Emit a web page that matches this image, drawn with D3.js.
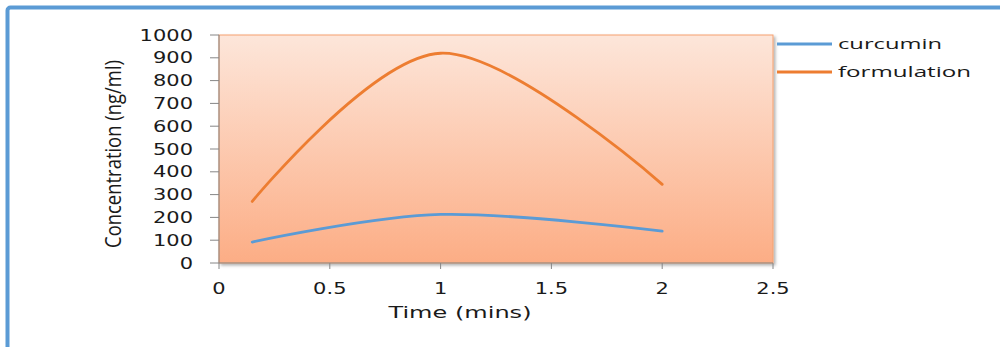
<!DOCTYPE html>
<html>
<head>
<meta charset="utf-8">
<script src="https://cdn.jsdelivr.net/npm/d3@7"></script>
<style>
  body { margin: 0; background: #fff; }
  svg { display: block; }
</style>
</head>
<body>
<script>
const width = 1000,
      height = 347

// data
const times = [0.15, 1, 2]
const curcumin = [92, 213, 140]
const formulation = [270, 920, 345]
const seriesNames = ['curcumin', 'formulation']
const seriesColors = ['#5b9bd5', '#ed7d31']
const xTicks = [0, 0.5, 1, 1.5, 2, 2.5]
const yTicks = [0, 100, 200, 300, 400, 500, 600, 700, 800, 900, 1000]

const plot = {left: 219, right: 773, top: 35, bottom: 263}
const stretch = 1.4   // the original picture is stretched sideways

const x = d3.scaleLinear().domain([0, 2.5]).range([plot.left, plot.right])
const y = d3.scaleLinear().domain([0, 1000]).range([plot.bottom, plot.top])

const svg = d3.select('body').append('svg')
    .attr('width', width)
    .attr('height', height)

const defs = svg.append('defs')
const grad = defs.append('linearGradient')
    .attr('id', 'plotFill')
    .attr('x1', 0).attr('y1', 0).attr('x2', 0).attr('y2', 1)
grad.append('stop').attr('offset', '0%').attr('stop-color', '#fde6da')
grad.append('stop').attr('offset', '100%').attr('stop-color', '#fcad85')

const shadow = defs.append('filter').attr('id', 'shadow')
    .attr('x', '-5%').attr('y', '-5%').attr('width', '110%').attr('height', '115%')
shadow.append('feDropShadow')
    .attr('dx', 2).attr('dy', 2).attr('stdDeviation', 1.5)
    .attr('flood-color', '#000').attr('flood-opacity', 0.3)

// outer frame, only its top and left edges show
svg.append('rect')
    .attr('x', 7.5).attr('y', 7.5)
    .attr('width', 1100).attr('height', 500)
    .attr('rx', 3)
    .attr('fill', 'none')
    .attr('stroke', '#5b9bd5')
    .attr('stroke-width', 4)

// plot area
svg.append('rect')
    .attr('x', plot.left).attr('y', plot.top)
    .attr('width', plot.right - plot.left)
    .attr('height', plot.bottom - plot.top)
    .attr('fill', 'url(#plotFill)')
    .attr('stroke', '#f5a06e')
    .attr('stroke-width', 1)
    .attr('filter', 'url(#shadow)')

// stretched text helper
function label(g, str, tx, ty, opts) {
    const t = g.append('text')
        .attr('transform', `translate(${tx},${ty}) scale(${stretch},1)`)
        .attr('text-anchor', opts.anchor || 'middle')
        .attr('font-family', opts.font || 'DejaVu Sans, Verdana, sans-serif')
        .attr('font-size', opts.size || 15)
        .attr('fill', opts.fill || '#1a1a1a')
        .text(str)
    if (opts.len) {
        t.attr('textLength', opts.len / stretch).attr('lengthAdjust', 'spacingAndGlyphs')
    }
    return t
}

// y axis
const yAxis = svg.append('g')
yAxis.append('line')
    .attr('x1', plot.left).attr('x2', plot.left)
    .attr('y1', plot.top).attr('y2', plot.bottom)
    .attr('stroke', '#868686')
yAxis.selectAll('.ytick')
    .data(yTicks)
    .enter()
    .append('line')
        .attr('x1', plot.left - 9).attr('x2', plot.left)
        .attr('y1', d => y(d)).attr('y2', d => y(d))
        .attr('stroke', '#868686')
yTicks.forEach(d => {
    label(yAxis, d, 193, y(d) + 5.5, {anchor: 'end'})
})

// x axis
const xAxis = svg.append('g')
xAxis.append('line')
    .attr('x1', plot.left).attr('x2', plot.right)
    .attr('y1', plot.bottom).attr('y2', plot.bottom)
    .attr('stroke', '#868686')
xAxis.selectAll('.xtick')
    .data(xTicks)
    .enter()
    .append('line')
        .attr('x1', d => x(d)).attr('x2', d => x(d))
        .attr('y1', plot.bottom).attr('y2', plot.bottom + 6)
        .attr('stroke', '#868686')
xTicks.forEach(d => {
    label(xAxis, d, x(d), 294, {})
})

// axis titles
label(svg, 'Time (mins)', 460, 318, {size: 16.5, len: 143})

svg.append('text')
    .attr('transform', `translate(121,154) rotate(-90) scale(1,${stretch})`)
    .attr('text-anchor', 'middle')
    .attr('font-family', 'Open Sans, sans-serif')
    .attr('font-size', 16)
    .attr('fill', '#1a1a1a')
    .attr('textLength', 188)
    .attr('lengthAdjust', 'spacingAndGlyphs')
    .text('Concentration (ng/ml)')

// lines
const line = d3.line()
    .x(d => x(d.t))
    .y(d => y(d.v))
    .curve(d3.curveCardinal.tension(0))

const series = [curcumin, formulation].map((vals, i) => {
    return {
        name: seriesNames[i],
        color: seriesColors[i],
        points: vals.map((v, j) => ({t: times[j], v: v}))
    }
})

svg.selectAll('.series')
    .data(series)
    .enter()
    .append('path')
        .attr('d', d => line(d.points))
        .attr('fill', 'none')
        .attr('stroke', d => d.color)
        .attr('stroke-width', 2.8)
        .attr('stroke-linecap', 'round')

// legend
const legendY = [44, 72]
const legendLen = [104, 133]
series.forEach((s, i) => {
    svg.append('line')
        .attr('x1', 777).attr('x2', 832)
        .attr('y1', legendY[i]).attr('y2', legendY[i])
        .attr('stroke', s.color)
        .attr('stroke-width', 3)
    label(svg, s.name, 838, legendY[i] + 5, {anchor: 'start', font: 'Open Sans, sans-serif', size: 14, len: legendLen[i]})
})
</script>
</body>
</html>
